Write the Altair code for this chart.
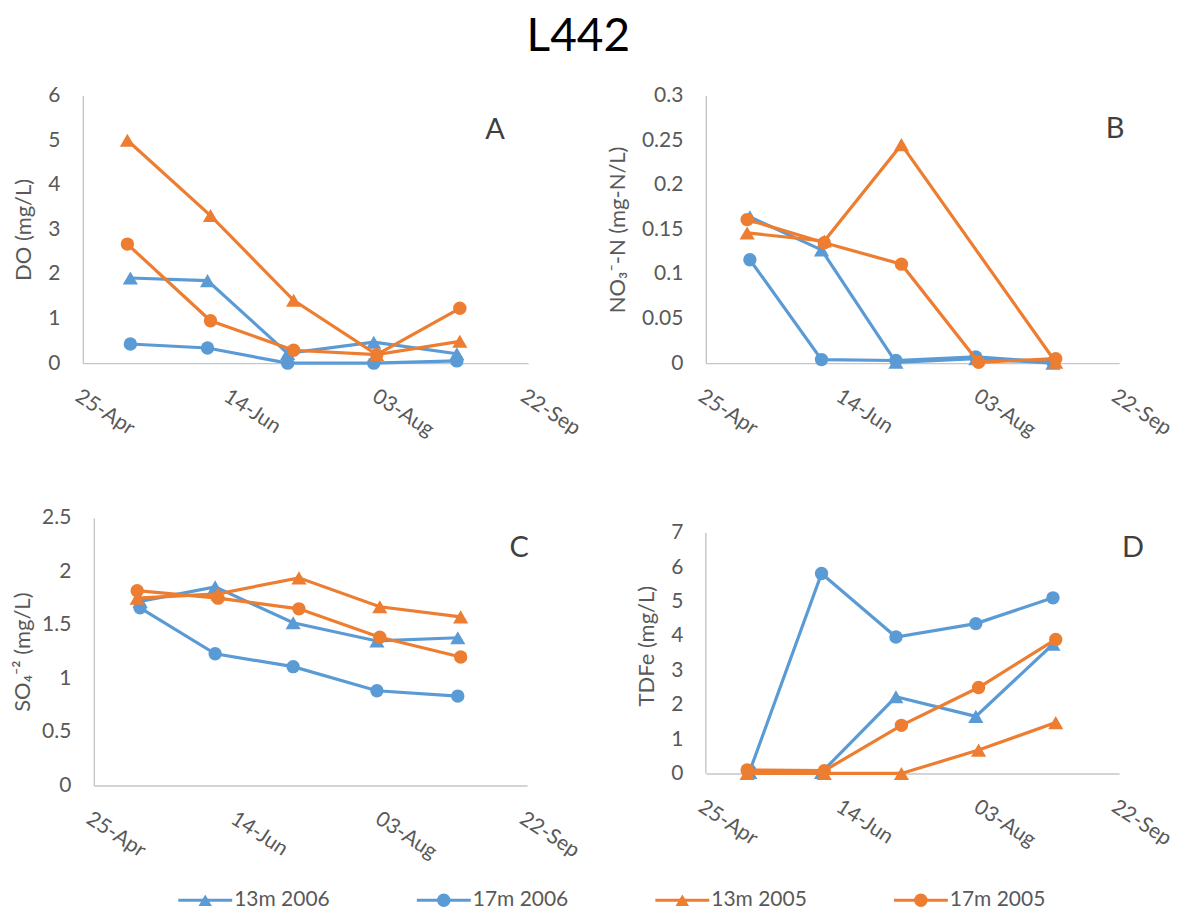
import altair as alt
import pandas as pd

# ---------------- data ----------------
series_names = ["13m 2006", "17m 2006", "13m 2005", "17m 2005"]
series_colors = ["#5B9BD5", "#5B9BD5", "#ED7D31", "#ED7D31"]
series_shapes = ["triangle-up", "circle", "triangle-up", "circle"]

# sampling dates (month-day), plotted on a common calendar axis
days_2006 = ["05-11", "06-06", "07-03", "08-01", "08-29"]
days_2005 = ["05-10", "06-07", "07-05", "08-02", "08-30"]
series_days = [days_2006, days_2006, days_2005, days_2005]

do_13m_2006 = [1.91, 1.85, 0.22, 0.47, 0.21]
do_17m_2006 = [0.43, 0.34, 0.0, 0.0, 0.05]
do_13m_2005 = [5.0, 3.31, 1.41, 0.19, 0.49]
do_17m_2005 = [2.67, 0.95, 0.29, 0.19, 1.23]

no3_13m_2006 = [0.164, 0.127, 0.001, 0.005, 0.0]
no3_17m_2006 = [0.116, 0.004, 0.003, 0.007, 0.001]
no3_13m_2005 = [0.146, 0.137, 0.245, None, 0.001]
no3_17m_2005 = [0.161, 0.135, 0.111, 0.001, 0.005]

so4_13m_2006 = [1.72, 1.855, 1.52, 1.35, 1.38]
so4_17m_2006 = [1.66, 1.23, 1.11, 0.885, 0.835]
so4_13m_2005 = [1.75, 1.79, 1.94, 1.67, 1.575]
so4_17m_2005 = [1.82, 1.75, 1.65, 1.385, 1.20]

fe_13m_2006 = [0.03, 0.03, 2.23, 1.66, 3.76]
fe_17m_2006 = [0.08, 5.82, 3.97, 4.36, 5.11]
fe_13m_2005 = [0.0, 0.0, 0.0, 0.68, 1.48]
fe_17m_2005 = [0.10, 0.08, 1.40, 2.50, 3.90]

x_tick_dates = [(4, 25), (6, 14), (8, 3), (9, 22)]

# ---------------- style ----------------
FONT = "Lato"
TXT = "#595959"
AXC = "#C6C6C6"


def dt(m, d):
    return alt.DateTime(year=2006, month=m, date=d, utc=True)


def make_panel(series_vals, ytitle, ydomain, yvalues, yfmt, width, height,
               extent, tpad, letter, lx, ly, yaxis_line=None, xshift=0):
    xscale = alt.Scale(type="utc", domain=[dt(4, 25), dt(9, 22)], nice=False)
    if xshift:
        xscale = alt.Scale(type="utc", domain=[dt(4, 25), dt(9, 22)], nice=False,
                           range=[xshift, width])
    x_enc = alt.X(
        "date:T",
        scale=xscale,
        axis=alt.Axis(
            title=None, values=[dt(m, d) for m, d in x_tick_dates], format="%d-%b",
            labelAngle=33, labelAlign="left", labelBaseline="top", labelPadding=22,
            labelFontSize=21, labelColor=TXT, labelFont=FONT, labelOverlap=False,
            ticks=False, tickSize=0, grid=False, domainColor=AXC, domainWidth=1.4,
        ),
    )
    yaxis_kw = dict(
        title=ytitle, values=yvalues, format=yfmt, labelFontSize=21,
        labelColor=TXT, labelFont=FONT, labelPadding=23, ticks=False, tickSize=0,
        grid=False, domain=yaxis_line is None, domainColor=AXC, domainWidth=1.4,
        titleFontSize=22, titleFont=FONT, titleColor=TXT, titleFontWeight="normal",
        minExtent=extent, maxExtent=extent, titlePadding=tpad, labelOverlap=False,
    )
    if xshift:
        yaxis_kw["offset"] = -xshift
    yaxis = alt.Axis(**yaxis_kw)
    yscale = alt.Scale(domain=ydomain, nice=False, zero=True)
    y_enc = alt.Y("v:Q", scale=yscale, axis=yaxis)
    layers = []
    for name, color, shape, days, vals in zip(series_names, series_colors,
                                             series_shapes, series_days, series_vals):
        df = pd.DataFrame({"date": ["2006-" + d for d in days], "v": vals, "s": name})
        df = df.dropna()
        base = alt.Chart(df).encode(x=x_enc, y=y_enc)
        layers.append(base.mark_line(color=color, strokeWidth=3.2))
        layers.append(base.mark_point(shape=shape, filled=True, color=color, opacity=1,
                                      size=230 if shape.startswith("tri") else 180))
    if yaxis_line is not None:
        layers.append(
            alt.Chart(pd.DataFrame({"y0": [yaxis_line[0]], "y1": [yaxis_line[1]]}))
            .mark_rule(color=AXC, strokeWidth=1.4)
            .encode(x=alt.value(0), y=alt.Y("y0:Q", scale=yscale, axis=yaxis), y2="y1:Q")
        )
    layers.append(
        alt.Chart(pd.DataFrame({"t": [letter]}))
        .mark_text(fontSize=29, font=FONT, color="#404040", align="center", baseline="middle")
        .encode(text="t:N", x=alt.value(lx), y=alt.value(ly))
    )
    return alt.layer(*layers).properties(width=width, height=height)


pA = make_panel([do_13m_2006, do_17m_2006, do_13m_2005, do_17m_2005],
                "DO (mg/L)", [0, 6], [0, 1, 2, 3, 4, 5, 6], "~g",
                446, 268, 34, 13, "A", 413, 34)
pB = make_panel([no3_13m_2006, no3_17m_2006, no3_13m_2005, no3_17m_2005],
                "NO\u2083\u207B-N (mg-N/L)", [0, 0.3], [0, 0.05, 0.1, 0.15, 0.2, 0.25, 0.3], "~g",
                414, 268, 65, 11, "B", 410, 33)
pC = make_panel([so4_13m_2006, so4_17m_2006, so4_13m_2005, so4_17m_2005],
                "SO\u2084\u207B\u00B2 (mg/L)", [0, 2.5], [0, 0.5, 1, 1.5, 2, 2.5], "~g",
                445, 268, 53, 6, "C", 437, 30, xshift=11)
pD = make_panel([fe_13m_2006, fe_17m_2006, fe_13m_2005, fe_17m_2005],
                "TDFe (mg/L)", [0, 7.436], [0, 1, 2, 3, 4, 5, 6, 7], "~g",
                414, 256, 34, 13, "D", 428, 30, yaxis_line=(0, 7))

row1 = alt.hconcat(pA, pB, spacing=178, bounds="flush")
row2 = alt.hconcat(pC, pD, spacing=179, bounds="flush")
grid = alt.vconcat(row1, row2, spacing=66, bounds="full")

# ---------------- legend ----------------
leg_df = pd.DataFrame({"series": series_names})
lx = alt.X("series:N", scale=alt.Scale(type="point", domain=series_names, padding=0.513), axis=None)
lc = alt.Color("series:N", scale=alt.Scale(domain=series_names, range=series_colors), legend=None)
ls = alt.Shape("series:N", scale=alt.Scale(domain=series_names, range=series_shapes), legend=None)
leg_base = alt.Chart(leg_df).encode(x=lx)
legend = alt.layer(
    leg_base.mark_point(shape="stroke", size=2916, strokeWidth=3.2, filled=False, opacity=1).encode(color=lc),
    leg_base.mark_point(filled=True, size=180, opacity=1).encode(color=lc, shape=ls),
    leg_base.mark_text(align="left", baseline="middle", dx=29, fontSize=21, font=FONT, color=TXT)
    .encode(text="series:N"),
).properties(width=962, height=16)

chart = alt.vconcat(grid, legend, spacing=26, bounds="full").properties(
    title=alt.Title("L442", fontSize=46, font=FONT, fontWeight="normal", color="#000000",
                    anchor="middle", offset=24, dx=-15),
    padding={"left": 12, "top": 13, "right": 5, "bottom": 0},
).configure(font=FONT).configure_view(stroke=None)

chart.save("out.html", embed_options={"renderer": "svg", "actions": False})
